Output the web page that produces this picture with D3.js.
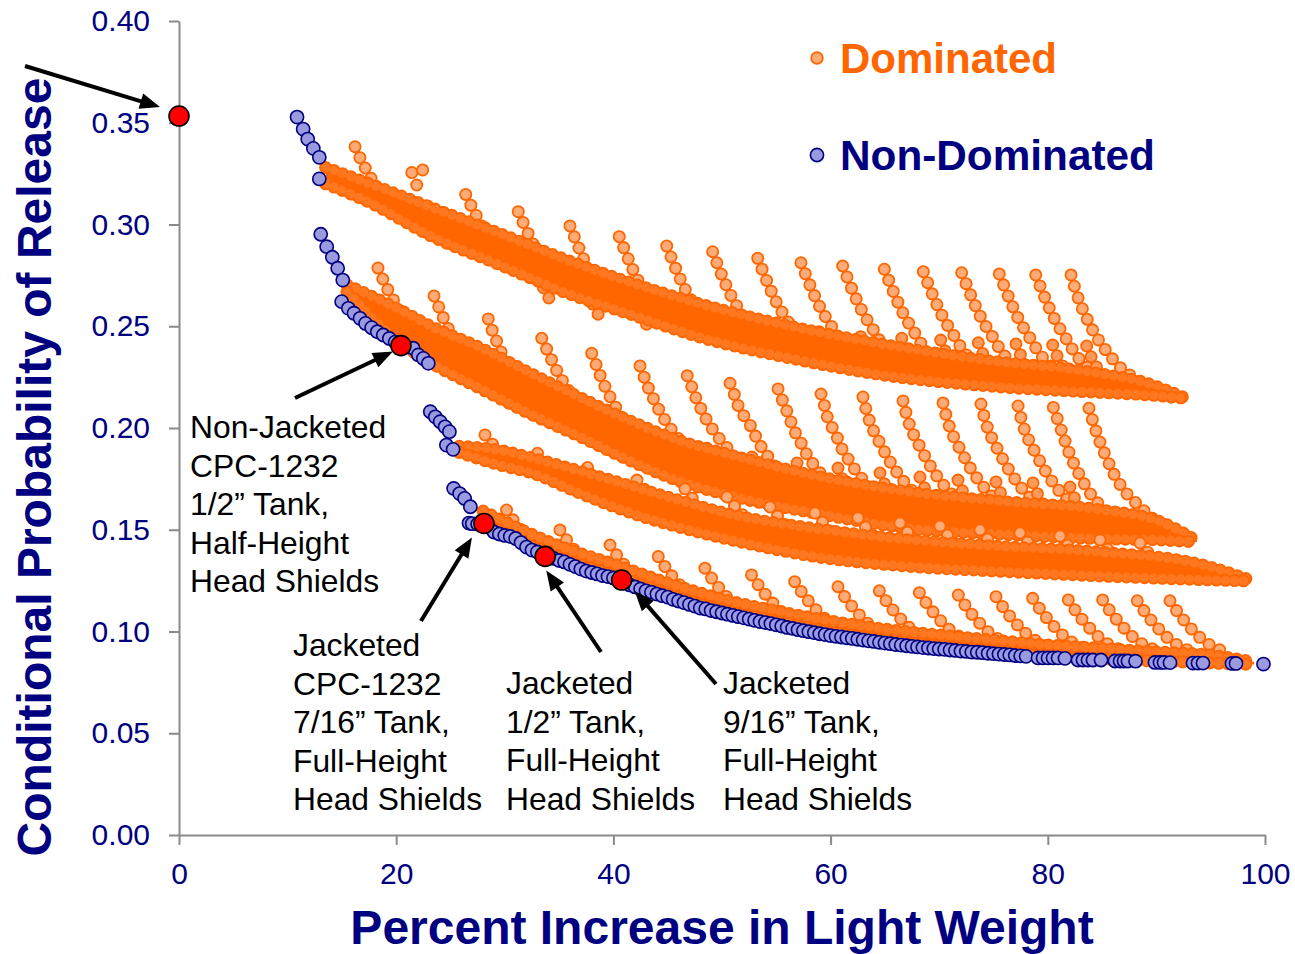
<!DOCTYPE html>
<html>
<head>
<meta charset="utf-8">
<script src="https://cdn.jsdelivr.net/npm/d3@7"></script>
<style>
  html, body { margin: 0; padding: 0; background: #ffffff; }
  svg { display: block; font-family: "Liberation Sans", Arial, Helvetica, sans-serif; }
</style>
</head>
<body>
<svg id="chart" width="1295" height="954"></svg>
<script>
// ---------- axis ticks ----------
const xTicks = [0, 20, 40, 60, 80, 100];
const yTicks = [0, 0.05, 0.10, 0.15, 0.20, 0.25, 0.30, 0.35, 0.40];

// ---------- dominated designs: dense cores of the four families [x, upper, lower] ----------
const bandA = [[13.5,.3280,.3200],[17.31,.3205,.3115],[23.39,.3080,.2939],[29.56,.2955,.2802],[35.73,.2825,.2663],
  [41.80,.2710,.2555],[47.97,.2610,.2447],[56.26,.2500,.2344],[65.47,.2405,.2256],[74.68,.2330,.2206],
  [83.89,.2275,.2177],[89.41,.2215,.2162],[92.45,.2152,.2147]];
const bandB = [[15.47,.2703,.2668],[20.35,.2580,.2420],[23.39,.2495,.2315],[27.72,.2395,.2195],[32.32,.2270,.2070],
  [36.92,.2150,.1958],[41.53,.2035,.1840],[46.13,.1937,.1738],[50.74,.1868,.1668],[59.02,.1760,.1578],
  [67.31,.1685,.1506],[75.60,.1640,.1478],[84.81,.1598,.1456],[90.33,.1540,.1450],[93.74,.1445,.1440]];
const bandC = [[25.8,.1910,.1880],[29.56,.1890,.1818],[32.32,.1855,.1782],[36.92,.1788,.1680],[41.53,.1716,.1585],
  [46.13,.1643,.1512],[50.74,.1576,.1452],[59.02,.1502,.1365],[67.31,.1450,.1320],[75.60,.1418,.1296],
  [84.81,.1390,.1273],[94.01,.1330,.1255],[98.62,.1253,.1248]];
const bandD = [[28.0,.1592,.1543],[32,.1489,.1430],[36,.1401,.1346],[40,.1332,.1278],[45,.1239,.1184],
  [50,.1160,.1106],[55,.1101,.1052],[60,.1052,.0998],[65,.1012,.0958],[70,.0983,.0929],[75,.0958,.0904],
  [80,.0934,.0880],[85,.0917,.0865],[90,.0900,.0855],[95,.0884,.0845],[99,.0850,.0838]];

// ---------- dominated designs: arcs rising above each family ----------
const arcsA = [
  [[16.21,.3382],[16.73,.3320],[17.22,.3271],[17.74,.3222],[18.26,.3178],[18.81,.3137],[19.43,.3096]],
  [[22.90,.3090],[23.42,.3047],[23.85,.3008],[24.30,.2983]],
  [[26.40,.3148],[26.95,.3087],[27.96,.2986],[28.94,.2891],[30.17,.2801]],
  [[31.24,.3063],[32.26,.2943],[33.18,.2845],[34.23,.2760],[35.10,.2693]],
  [[36.00,.2993],[36.90,.2875],[37.82,.2768],[38.83,.2678],[39.87,.2600]],
  [[40.54,.2940],[41.44,.2822],[42.36,.2715],[43.37,.2626],[44.44,.2536]],
  [[44.91,.2894],[45.80,.2776],[46.72,.2670],[47.73,.2580],[48.80,.2490]],
  [[49.14,.2866],[50.04,.2743],[50.96,.2637],[51.97,.2547],[53.04,.2457]],
  [[53.29,.2834],[54.18,.2716],[55.10,.2609],[56.12,.2519],[57.18,.2430]],
  [[57.27,.2812],[58.17,.2694],[59.09,.2587],[60.10,.2498],[61.17,.2408]],
  [[61.11,.2796],[62.00,.2678],[62.93,.2572],[63.94,.2482],[65.01,.2392],[66.82,.2296]],
  [[64.95,.2780],[65.84,.2662],[66.76,.2555],[67.77,.2465],[68.84,.2375],[70.66,.2280]],
  [[68.54,.2768],[69.43,.2650],[70.35,.2544],[71.36,.2454],[72.43,.2364],[74.25,.2268]],
  [[72.07,.2763],[72.97,.2645],[73.89,.2538],[74.90,.2449],[75.97,.2359],[77.78,.2263]],
  [[75.53,.2757],[76.43,.2639],[77.35,.2531],[78.36,.2442],[79.43,.2352],[81.24,.2257]],
  [[78.89,.2752],[79.78,.2634],[80.70,.2527],[81.71,.2437],[82.78,.2347],[84.59,.2252],[86.44,.2187]],
  [[82.14,.2752],[82.88,.2626],[83.70,.2527],[84.50,.2447],[85.54,.2368],[86.92,.2285],[88.76,.2221],[90.60,.2162],[92.17,.2147]]
];
const subArcsA = [
  [[33.15,.2742],[33.61,.2683],[34.16,.2629]],[[37.69,.2662],[38.15,.2603],[38.70,.2549]],
  [[42.15,.2613],[42.61,.2554],[43.16,.2500]],[[46.75,.2564],[47.21,.2505],[47.76,.2451]],
  [[50.99,.2527],[51.45,.2468],[52.00,.2414]],[[54.97,.2495],[55.43,.2436],[55.98,.2382]],
  [[58.93,.2473],[59.39,.2414],[59.94,.2360]],[[62.77,.2449],[63.23,.2390],[63.78,.2336]],
  [[66.55,.2441],[67.01,.2382],[67.56,.2328]],[[70.14,.2432],[70.60,.2373],[71.15,.2319]],
  [[73.60,.2419],[74.06,.2360],[74.61,.2306]],[[77.07,.2413],[77.53,.2354],[78.08,.2300]],
  [[80.45,.2408],[80.91,.2349],[81.46,.2295]],[[83.58,.2403],[84.04,.2344],[84.59,.2290]]
];
const arcsB = [
  [[18.32,.2786],[18.81,.2727],[19.37,.2665],[19.89,.2616],[20.35,.2571],[20.90,.2527],[21.43,.2482]],
  [[23.48,.2649],[23.97,.2588],[24.43,.2531],[24.95,.2473],[25.48,.2429],[26.03,.2383],[26.55,.2342]],
  [[28.48,.2536],[28.89,.2473],[29.31,.2419],[29.72,.2367],[30.23,.2318],[30.78,.2272],[31.40,.2228],[32.02,.2187]],
  [[33.40,.2441],[33.86,.2387],[34.32,.2334],[34.78,.2282],[35.30,.2233],[35.85,.2187],[36.46,.2146],[37.08,.2105]],
  [[38.00,.2367],[38.46,.2305],[38.92,.2239],[39.38,.2187],[39.84,.2138],[40.36,.2088],[40.86,.2043],[41.37,.2006]],
  [[42.45,.2305],[42.91,.2239],[43.37,.2178],[43.83,.2129],[44.29,.2080],[44.84,.2031],[45.37,.1990],[45.98,.1949],[46.59,.1912]],
  [[46.80,.2257],[47.27,.2195],[47.67,.2138],[48.13,.2088],[48.59,.2039],[49.14,.1993],[49.66,.1954],[50.28,.1916],[50.74,.1884],[51.38,.1843]],
  [[50.74,.2220],[51.20,.2156],[51.66,.2088],[52.42,.2031],[52.89,.1982],[53.35,.1933],[53.80,.1892],[54.35,.1851],[54.88,.1810],[55.49,.1769]],
  [[55.16,.2192],[55.64,.2126],[56.08,.2069],[56.49,.2011],[56.91,.1960],[57.41,.1914],[57.83,.1867],[58.38,.1824],[58.93,.1786],[59.55,.1746],[60.22,.1709]],
  [[59.12,.2167],[59.48,.2102],[59.79,.2039],[60.41,.1977],[60.80,.1928],[61.23,.1878],[61.79,.1834],[62.25,.1794],[62.86,.1753],[63.48,.1715],[64.18,.1679]],
  [[62.98,.2152],[63.65,.2024],[64.67,.1913],[65.65,.1819],[66.73,.1738],[68.04,.1664],[69.43,.1602]],
  [[66.67,.2133],[67.34,.2005],[68.36,.1894],[69.34,.1800],[70.42,.1719],[71.73,.1645],[73.12,.1583]],
  [[70.35,.2123],[71.02,.1995],[72.04,.1884],[73.02,.1790],[74.10,.1709],[75.41,.1635],[76.80,.1573]],
  [[73.85,.2118],[74.52,.1990],[75.54,.1879],[76.52,.1785],[77.60,.1704],[78.91,.1630],[80.30,.1568]],
  [[77.26,.2108],[77.93,.1980],[78.95,.1869],[79.93,.1775],[81.01,.1694],[82.32,.1620],[83.71,.1558]],
  [[80.51,.2101],[81.37,.1970],[82.11,.1859],[82.97,.1764],[83.89,.1679],[84.50,.1638],[85.73,.1572]],
  [[83.79,.2097],[84.59,.1961],[85.36,.1859],[86.19,.1764],[87.20,.1682],[88.65,.1605],[89.41,.1564],[91.25,.1509]]
];
const subArcsB = [
  [[25.32,.2392],[25.78,.2333],[26.33,.2279]],[[30.17,.2285],[30.63,.2226],[31.18,.2172]],
  [[35.24,.2088],[35.70,.2029],[36.25,.1975]],[[39.84,.2006],[40.30,.1947],[40.85,.1893]],
  [[44.29,.1949],[44.75,.1890],[45.30,.1836]],[[48.59,.1900],[49.05,.1841],[49.60,.1787]],
  [[52.76,.1857],[53.22,.1798],[53.77,.1744]],[[56.91,.1828],[57.37,.1769],[57.92,.1715]],
  [[60.68,.1803],[61.14,.1744],[61.69,.1690]],[[64.55,.1779],[65.01,.1720],[65.56,.1666]],
  [[68.23,.1759],[68.69,.1700],[69.24,.1646]],[[71.73,.1744],[72.19,.1685],[72.74,.1631]],
  [[75.23,.1735],[75.69,.1676],[76.24,.1622]],[[78.64,.1730],[79.10,.1671],[79.65,.1617]],
  [[82.04,.1710],[82.50,.1651],[83.05,.1597]]
];
const arcsC = [
  [[28.18,.1966],[28.64,.1933],[29.10,.1908],[29.56,.1884],[30.02,.1862]],
  [[33.01,.1876],[33.47,.1843],[33.93,.1818],[34.39,.1798]],
  [[37.62,.1806],[38.08,.1773],[38.54,.1749],[39.00,.1724]],
  [[42.17,.1744],[42.63,.1712],[43.09,.1687],[43.55,.1663]],
  [[46.59,.1701],[47.05,.1667],[47.51,.1642],[48.04,.1617]],
  [[50.46,.1661],[51.38,.1602],[52.30,.1553],[53.22,.1514]],
  [[54.42,.1612],[55.34,.1553],[56.26,.1504],[57.18,.1465]],
  [[58.56,.1582],[59.48,.1523],[60.40,.1474],[61.32,.1435]],
  [[62.52,.1558],[63.44,.1499],[64.36,.1450],[65.28,.1411]],
  [[66.39,.1533],[67.31,.1474],[68.23,.1425],[69.15,.1386]],
  [[70.07,.1518],[70.99,.1459],[71.91,.1410],[72.83,.1371]],
  [[73.76,.1499],[74.68,.1440],[75.60,.1391],[76.52,.1352]],
  [[77.44,.1484],[78.36,.1425],[79.28,.1376],[80.20,.1337]],
  [[81.12,.1469],[82.04,.1410],[82.96,.1361],[83.88,.1322]],
  [[84.81,.1450],[85.73,.1391],[86.65,.1342],[87.57,.1303]],
  [[88.49,.1435],[89.41,.1376],[90.33,.1327],[91.25,.1288]]
];
const arcsD = [
  [[30.16,.1597],[30.99,.1532],[32.00,.1466],[33.08,.1409],[34.30,.1366]],
  [[35.08,.1499],[35.91,.1434],[36.92,.1368],[38.00,.1311],[39.22,.1268]],
  [[39.69,.1425],[40.52,.1360],[41.53,.1294],[42.61,.1237],[43.83,.1194]],
  [[44.13,.1368],[44.96,.1303],[45.97,.1237],[47.05,.1180],[48.27,.1137]],
  [[48.43,.1311],[49.26,.1246],[50.27,.1180],[51.35,.1123],[52.57,.1080]],
  [[52.72,.1278],[53.55,.1213],[54.56,.1147],[55.64,.1090],[56.86,.1047]],
  [[56.69,.1245],[57.52,.1180],[58.53,.1114],[59.61,.1057],[60.83,.1014]],
  [[60.68,.1220],[61.51,.1155],[62.52,.1089],[63.60,.1032],[64.82,.0989]],
  [[64.49,.1200],[65.32,.1135],[66.33,.1069],[67.41,.1012],[68.63,.0969]],
  [[68.17,.1191],[69.00,.1126],[70.01,.1060],[71.09,.1003],[72.31,.0960]],
  [[71.76,.1179],[72.59,.1114],[73.60,.1048],[74.68,.0991],[75.90,.0948]],
  [[75.23,.1171],[76.06,.1106],[77.07,.1040],[78.15,.0983],[79.37,.0940],[80.75,.0915]],
  [[78.61,.1163],[79.44,.1098],[80.45,.1032],[81.53,.0975],[82.75,.0932],[84.13,.0907]],
  [[81.89,.1155],[82.72,.1090],[83.73,.1024],[84.81,.0967],[86.03,.0924],[87.41,.0899]],
  [[85.05,.1155],[85.88,.1090],[86.89,.1024],[87.97,.0967],[89.19,.0924],[90.57,.0899]],
  [[88.24,.1151],[89.07,.1086],[90.08,.1020],[91.16,.0963],[92.38,.0920],[93.76,.0895]],
  [[91.25,.1151],[92.08,.1086],[93.09,.1020],[94.17,.0963],[95.39,.0920],[96.77,.0895]]
];
const strayDominated = [[21.44,.3255],[22.44,.3268],[21.89,.3194]];

// ---------- non-dominated designs ----------
const nonDominatedHeads = [
  [10.87,.3528],[11.43,.3469],[11.85,.3420],[12.37,.3374],[12.92,.3330],[12.92,.3224],
  [13.05,.2952],[13.60,.2891],[14.12,.2839],[14.61,.2785],[15.08,.2727],
  [14.98,.2621],[15.59,.2588],[16.11,.2564],[16.67,.2539],[17.18,.2514],[17.74,.2493],[18.26,.2473],
  [18.81,.2457],[19.37,.2440],[19.90,.2422],[21.57,.2392],[22.04,.2359],[22.50,.2342],[22.96,.2318],
  [23.14,.2080],[23.60,.2055],[24.05,.2031],[24.50,.2006],[24.90,.1982],[24.62,.1916],[25.24,.1895],
  [25.29,.1703],[25.84,.1678],[26.30,.1654],[26.83,.1613]
];
const nonDominatedFront = [
  [26.7,.1533],[27.0,.1530],[27.5,.1528],[28.0,.1528],[28.5,.1514],[29.0,.1489],[29.5,.1479],[30.0,.1472],
  [30.5,.1467],[31.0,.1457],[31.5,.1437],[32.0,.1415],[32.5,.1400],[33.0,.1391],[33.5,.1381],[34.0,.1369],
  [34.5,.1359],[35.0,.1349],[35.5,.1342],[36.0,.1330],[36.5,.1319],[37.0,.1307],[37.5,.1297],[38.0,.1290],
  [38.5,.1283],[39.0,.1275],[39.5,.1270],[40.0,.1263],[40.5,.1256],[41.0,.1246],[41.5,.1229],[42.0,.1219],
  [42.5,.1209],[43.0,.1200],[43.5,.1193],[44.0,.1184],[44.5,.1176],[45.0,.1169],[45.5,.1158],[46.0,.1150],
  [46.5,.1142],[47.0,.1133],[47.5,.1125],[48.0,.1115],[48.5,.1111],[49.0,.1103],[49.5,.1097],[50.0,.1091],
  [50.5,.1085],[51.0,.1079],[51.5,.1073],[52.0,.1067],[52.5,.1061],[53.0,.1055],[53.5,.1049],[54.0,.1044],
  [54.5,.1039],[55.0,.1033],[55.5,.1027],[56.0,.1020],[56.5,.1015],[57.0,.1009],[57.5,.1004],[58.0,.0999],
  [58.5,.0994],[59.0,.0989],[59.5,.0985],[60.0,.0980],[60.5,.0976],[61.0,.0973],[61.5,.0969],[62.0,.0966],
  [62.5,.0962],[63.0,.0958],[63.5,.0954],[64.0,.0951],[64.5,.0947],[65.0,.0943],[65.5,.0940],[66.0,.0936],
  [66.5,.0933],[67.0,.0930],[67.5,.0927],[68.0,.0924],[68.5,.0921],[69.0,.0919],[69.5,.0916],[70.0,.0914],
  [70.5,.0912],[71.0,.0909],[71.5,.0907],[72.0,.0904],[72.5,.0902],[73.0,.0899],[73.5,.0898],[74.0,.0896],
  [74.5,.0893],[75.0,.0891],[75.5,.0889],[76.0,.0887],[76.5,.0885],[77.0,.0882],[77.5,.0880],[78.0,.0878],
  [79.10,.0870],[79.56,.0870],[80.02,.0870],[80.48,.0870],[80.94,.0870],[81.58,.0868],
  [82.78,.0860],[83.24,.0860],[83.70,.0860],[84.16,.0860],[84.90,.0860],
  [86.19,.0855],[86.65,.0855],[87.02,.0855],[87.38,.0855],[88.08,.0854],
  [89.87,.0848],[90.33,.0848],[90.70,.0848],[91.25,.0847],
  [93.37,.0845],[93.83,.0845],[94.29,.0845],
  [96.96,.0843],[97.33,.0843],
  [99.86,.0840]
];

// ---------- highlighted tank designs ----------
const designPoints = [[0, .3533], [20.44, .2405], [28.08, .1531], [33.72, .1369], [40.76, .1253]];
const designNotes = [
  ["Non-Jacketed", "CPC-1232", "1/2\u201D Tank,", "Half-Height", "Head Shields"],
  ["Jacketed", "CPC-1232", "7/16\u201D Tank,", "Full-Height", "Head Shields"],
  ["Jacketed", "1/2\u201D Tank,", "Full-Height", "Head Shields"],
  ["Jacketed", "9/16\u201D Tank,", "Full-Height", "Head Shields"]
];
const legendLabels = ["Dominated", "Non-Dominated"];
const xTitle = "Percent Increase in Light Weight";
const yTitle = "Conditional Probability of Release";

// ---------- drawing ----------
const COL = {
  orange: "#ff6600", orangeLight: "#ffab78",
  navy: "#000080", blueLight: "#9a9ade",
  red: "#ff0000", axis: "#8a8a8a"
};
const FONT = "'Liberation Sans', Arial, Helvetica, sans-serif";

const svg = d3.select("#chart");
const x = d3.scaleLinear().domain([0, 100]).range([179, 1265]);
const y = d3.scaleLinear().domain([0, 0.4]).range([835, 21]);

// axes
const gx = svg.append("g").attr("transform", `translate(0,${y(0)})`)
  .call(d3.axisBottom(x).tickValues(xTicks).tickSize(10).tickSizeOuter(0).tickPadding(18).tickFormat(d3.format("d")));
const gy = svg.append("g").attr("transform", `translate(${x(0)},0)`)
  .call(d3.axisLeft(y).tickValues(yTicks).tickSize(10).tickSizeOuter(0).tickPadding(19).tickFormat(d3.format(".2f")));
[gx, gy].forEach(g => {
  g.select(".domain").attr("stroke", COL.axis).attr("stroke-width", 2);
  g.selectAll(".tick line").attr("stroke", COL.axis).attr("stroke-width", 2);
  g.selectAll(".tick text").attr("fill", COL.navy).attr("font-size", 30).attr("font-family", FONT);
});

const plot = svg.append("g");
const edgeLine = d3.line().x(d => x(d[0])).y(d => y(d[1])).curve(d3.curveMonotoneX);
const arcLine = d3.line().x(d => x(d[0])).y(d => y(d[1])).curve(d3.curveCatmullRom.alpha(0.5));
const bandArea = d3.area().x(d => x(d[0])).y0(d => y(d[2])).y1(d => y(d[1])).curve(d3.curveMonotoneX);

// a run of outlined markers along a path
function markerRun(g, d, r, gap, ring, fill, fillOpacity) {
  g.append("path").attr("d", d).attr("fill", "none")
    .attr("stroke", ring).attr("stroke-width", 2 * r)
    .attr("stroke-linecap", "round").attr("stroke-dasharray", `0 ${gap}`);
  g.append("path").attr("d", d).attr("fill", "none")
    .attr("stroke", fill).attr("stroke-opacity", fillOpacity).attr("stroke-width", 2 * r - 3.6)
    .attr("stroke-linecap", "round").attr("stroke-dasharray", `0 ${gap}`);
}

// arcs first, so the dense core of the family covers where they run into it
function drawFamily(band, arcs, subArcs) {
  const g = plot.append("g");
  arcs.forEach(a => markerRun(g, arcLine(a), 6.5, 11.8, COL.orange, COL.orangeLight, 1));
  (subArcs || []).forEach(a => markerRun(g, arcLine(a), 6.5, 11.5, COL.orange, COL.orangeLight, 0.75));
  g.append("path").attr("d", bandArea(band)).attr("fill", COL.orange);
  markerRun(g, edgeLine(band.map(d => [d[0], d[1]])), 6.5, 9, COL.orange, COL.orangeLight, 0.25);
  markerRun(g, edgeLine(band.map(d => [d[0], d[2]])), 6.5, 9, COL.orange, COL.orangeLight, 0.25);
}

drawFamily(bandA, arcsA, subArcsA);
drawFamily(bandB, arcsB, subArcsB);
drawFamily(bandC, arcsC, null);
drawFamily(bandD, arcsD, null);

plot.append("g").selectAll("circle").data(strayDominated).join("circle")
  .attr("cx", d => x(d[0])).attr("cy", d => y(d[1])).attr("r", 5.6)
  .attr("fill", COL.orangeLight).attr("stroke", COL.orange).attr("stroke-width", 1.8);

// non-dominated designs
plot.append("g").selectAll("circle").data(nonDominatedHeads.concat(nonDominatedFront)).join("circle")
  .attr("cx", d => x(d[0])).attr("cy", d => y(d[1])).attr("r", 6.6)
  .attr("fill", COL.blueLight).attr("stroke", COL.navy).attr("stroke-width", 1.6);

// highlighted designs
plot.append("g").selectAll("circle").data(designPoints).join("circle")
  .attr("cx", d => x(d[0])).attr("cy", d => y(d[1])).attr("r", 10)
  .attr("fill", COL.red).attr("stroke", "#000").attr("stroke-width", 1.6);

// callout arrows: tail position and offset of the tip from its design point
const callouts = [
  { tail: [25, 66], target: 0, tip: [-19, -9] },
  { tail: [295, 398], target: 1, tip: [-8, 6] },
  { tail: [421, 621], target: 2, tip: [-12, 14] },
  { tail: [601, 652], target: 3, tip: [1, 14] },
  { tail: [716, 684], target: 4, tip: [13, 11] }
];
const arrows = svg.append("g");
callouts.forEach(c => {
  const p = designPoints[c.target];
  const tx = x(p[0]) + c.tip[0], ty = y(p[1]) + c.tip[1];
  const dx = tx - c.tail[0], dy = ty - c.tail[1];
  const len = Math.hypot(dx, dy), ux = dx / len, uy = dy / len;
  const head = 20, half = 8;
  const bx = tx - ux * head, by = ty - uy * head;
  arrows.append("line").attr("x1", c.tail[0]).attr("y1", c.tail[1])
    .attr("x2", bx + ux * 2).attr("y2", by + uy * 2)
    .attr("stroke", "#000").attr("stroke-width", 4);
  arrows.append("path")
    .attr("d", `M${tx},${ty}L${bx - uy * half},${by + ux * half}L${bx + uy * half},${by - ux * half}Z`)
    .attr("fill", "#000");
});

// design descriptions
const notePos = [[190, 438], [293, 656], [506, 694], [723, 694]];
designNotes.forEach((lines, i) => {
  const t = svg.append("text").attr("x", notePos[i][0]).attr("y", notePos[i][1])
    .attr("font-family", FONT).attr("font-size", 31.8).attr("fill", "#000");
  lines.forEach((s, k) => t.append("tspan").attr("x", notePos[i][0]).attr("dy", k === 0 ? 0 : 38.5).text(s));
});

// legend
const legend = svg.append("g");
legend.append("circle").attr("cx", 817).attr("cy", 58).attr("r", 5.8)
  .attr("fill", COL.orangeLight).attr("stroke", COL.orange).attr("stroke-width", 1.8);
legend.append("text").attr("x", 840).attr("y", 73).text(legendLabels[0])
  .attr("font-family", FONT).attr("font-weight", "bold").attr("font-size", 42).attr("fill", COL.orange);
legend.append("circle").attr("cx", 817).attr("cy", 155).attr("r", 6.6)
  .attr("fill", COL.blueLight).attr("stroke", COL.navy).attr("stroke-width", 1.6);
legend.append("text").attr("x", 840).attr("y", 170).text(legendLabels[1])
  .attr("font-family", FONT).attr("font-weight", "bold").attr("font-size", 42.3).attr("fill", COL.navy);

// axis titles
svg.append("text").attr("x", 722).attr("y", 944).attr("text-anchor", "middle")
  .attr("font-family", FONT).attr("font-weight", "bold").attr("font-size", 48).attr("fill", COL.navy)
  .text(xTitle);
svg.append("text").attr("transform", "translate(51,467) rotate(-90)").attr("text-anchor", "middle")
  .attr("font-family", FONT).attr("font-weight", "bold").attr("font-size", 48).attr("fill", COL.navy)
  .text(yTitle);
</script>
</body>
</html>
